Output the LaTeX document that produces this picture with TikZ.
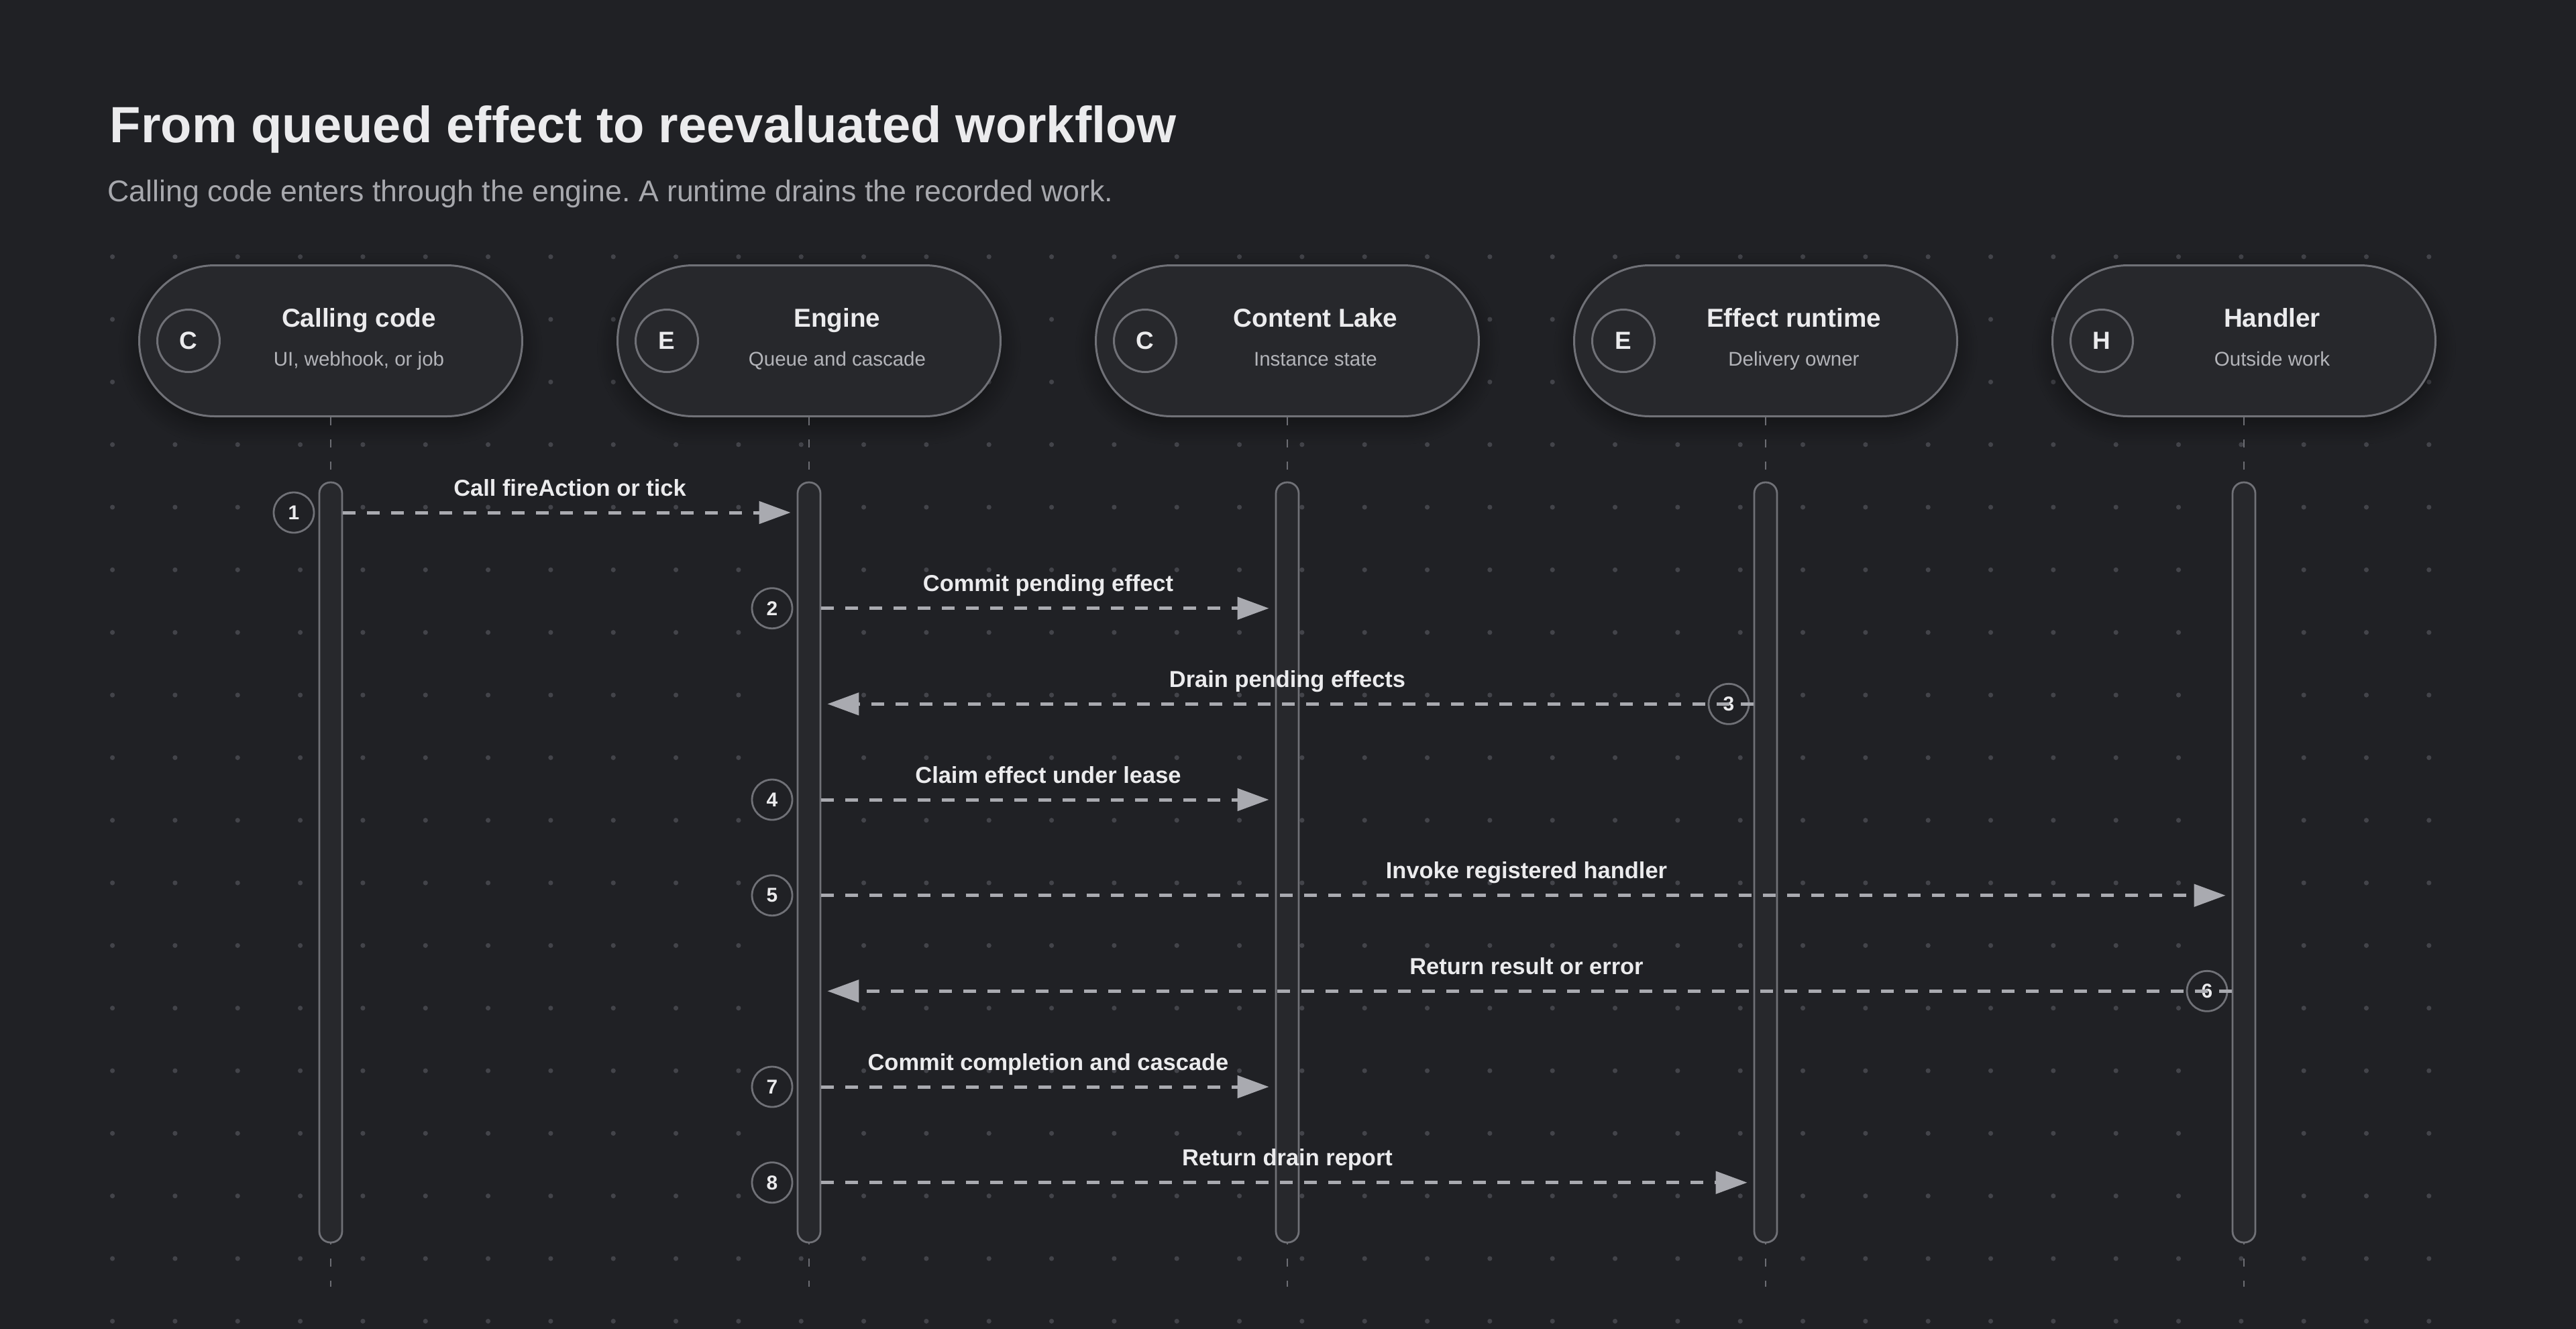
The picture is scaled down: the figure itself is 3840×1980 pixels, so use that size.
\documentclass[tikz,border=0pt]{standalone}
\usepackage{fontspec}
\setmainfont{Liberation Sans}
\usepackage{xcolor}
\usepackage{tikz}
\usetikzlibrary{positioning, calc, arrows.meta, shapes.misc, shadows.blur}
\frenchspacing

\definecolor{canvas}{HTML}{202125}
\definecolor{pillfill}{HTML}{27282C}
\definecolor{edge}{HTML}{707177}
\definecolor{lifec}{HTML}{6C6D73}
\definecolor{gridc}{HTML}{43444A}
\definecolor{wire}{HTML}{A9AAB0}
\definecolor{ink}{HTML}{EBEBED}
\definecolor{muted}{HTML}{A7A8AD}
\definecolor{soft}{HTML}{B3B4B9}

\begin{document}
\begin{tikzpicture}[
    x=0.1mm, y=-0.1mm,
    pill/.style={rounded rectangle, draw=edge, line width=0.3mm, fill=pillfill,
                 minimum width=57.1mm, minimum height=22.5mm, inner sep=0pt,
                 blur shadow={shadow blur radius=3mm, shadow xshift=0mm,
                              shadow yshift=-1.2mm, shadow opacity=45,
                              shadow blur steps=12}},
    initial/.style={circle, draw=edge, line width=0.3mm, minimum size=9.3mm,
                    inner sep=0pt, text=ink,
                    font=\fontsize{10.5pt}{12pt}\selectfont\bfseries},
    ptitle/.style={anchor=base, inner sep=0pt, text=ink,
                   font=\fontsize{11pt}{13pt}\selectfont\bfseries},
    psub/.style={anchor=base, inner sep=0pt, text=soft,
                 font=\fontsize{8.4pt}{10pt}\selectfont},
    lifeline/.style={draw=lifec, line width=0.25mm,
                     dash pattern=on 1.2mm off 2.1mm},
    actbox/.style={draw=edge, line width=0.28mm, fill=pillfill,
                   rounded corners=1.65mm, minimum width=3.4mm,
                   minimum height=113.3mm, inner sep=0pt},
    stepnum/.style={circle, draw=edge, line width=0.28mm, fill=canvas,
                    minimum size=6mm, inner sep=0pt, text=ink,
                    font=\fontsize{8.5pt}{10pt}\selectfont\bfseries},
    msg/.style={draw=wire, line width=0.5mm, dash pattern=on 1.9mm off 1.7mm,
                -{Triangle[length=4.7mm, width=3.3mm]}, shorten >=0.9mm},
    msglabel/.style={anchor=base, yshift=2.5mm, inner sep=0pt, text=ink,
                     font=\fontsize{9.8pt}{11pt}\selectfont\bfseries},
]
% --- Canvas ---
\useasboundingbox (0,0) rectangle (3840,1980);
\fill[canvas] (-20,-20) rectangle (3860,2000);

% dot grid
\foreach \i in {0,...,37}
  \foreach \j in {0,...,17}
    \fill[gridc] ({167.6+93.33*\i},{382.7+93.33*\j}) circle (0.36mm);

% --- Heading ---
\node[anchor=base west, inner sep=0pt, text=ink,
      font=\fontsize{21.6pt}{26pt}\selectfont\bfseries] (title) at (163,212)
    {From queued effect to reevaluated workflow};
\node[anchor=base west, inner sep=0pt, text=muted,
      font=\fontsize{12.7pt}{15pt}\selectfont] (subtitle) at (160,300)
    {Calling code enters through the engine. A runtime drains the recorded work.};

% --- Participants ---
\node[pill] (call) at (493,508) {};
\node[initial] (call_i) at ($(call.west)+(75,0)$) {C};
\node[ptitle] (call_t) at ($(call.center)+(42,-21)$) {Calling code};
\node[psub] (call_s) at ($(call.center)+(42,37)$) {UI, webhook, or job};

\node[pill] (eng) at (1206,508) {};
\node[initial] (eng_i) at ($(eng.west)+(75,0)$) {E};
\node[ptitle] (eng_t) at ($(eng.center)+(42,-21)$) {Engine};
\node[psub] (eng_s) at ($(eng.center)+(42,37)$) {Queue and cascade};

\node[pill] (lake) at (1919,508) {};
\node[initial] (lake_i) at ($(lake.west)+(75,0)$) {C};
\node[ptitle] (lake_t) at ($(lake.center)+(42,-21)$) {Content Lake};
\node[psub] (lake_s) at ($(lake.center)+(42,37)$) {Instance state};

\node[pill] (rt) at (2632,508) {};
\node[initial] (rt_i) at ($(rt.west)+(75,0)$) {E};
\node[ptitle] (rt_t) at ($(rt.center)+(42,-21)$) {Effect runtime};
\node[psub] (rt_s) at ($(rt.center)+(42,37)$) {Delivery owner};

\node[pill] (hdl) at (3345,508) {};
\node[initial] (hdl_i) at ($(hdl.west)+(75,0)$) {H};
\node[ptitle] (hdl_t) at ($(hdl.center)+(42,-21)$) {Handler};
\node[psub] (hdl_s) at ($(hdl.center)+(42,37)$) {Outside work};

% --- Lifelines ---
\coordinate (call_end) at (493,1918);
\coordinate (eng_end) at (1206,1918);
\coordinate (lake_end) at (1919,1918);
\coordinate (rt_end) at (2632,1918);
\coordinate (hdl_end) at (3345,1918);
\draw[lifeline] (call.south) -- (call_end);
\draw[lifeline] (eng.south) -- (eng_end);
\draw[lifeline] (lake.south) -- (lake_end);
\draw[lifeline] (rt.south) -- (rt_end);
\draw[lifeline] (hdl.south) -- (hdl_end);

\node[actbox] (act_call) at (493,1285.5) {};
\node[actbox] (act_eng) at (1206,1285.5) {};
\node[actbox] (act_lake) at (1919,1285.5) {};
\node[actbox] (act_rt) at (2632,1285.5) {};
\node[actbox] (act_hdl) at (3345,1285.5) {};

% --- Step badges ---
\node[stepnum] (s1) at (438,764) {1};
\node[stepnum] (s2) at (1151,906.7) {2};
\node[stepnum] (s3) at (2577,1049.3) {3};
\node[stepnum] (s4) at (1151,1192) {4};
\node[stepnum] (s5) at (1151,1334.7) {5};
\node[stepnum] (s6) at (3290,1477.3) {6};
\node[stepnum] (s7) at (1151,1620) {7};
\node[stepnum] (s8) at (1151,1762.7) {8};

% --- Messages ---
\draw[msg] (s1 -| act_call.east) -- (s1 -| act_eng.west)
    node[midway, msglabel] {Call fireAction or tick};
\draw[msg] (s2 -| act_eng.east) -- (s2 -| act_lake.west)
    node[midway, msglabel] {Commit pending effect};
\draw[msg] (s3 -| act_rt.west) -- (s3 -| act_eng.east)
    node[midway, msglabel] {Drain pending effects};
\draw[msg] (s4 -| act_eng.east) -- (s4 -| act_lake.west)
    node[midway, msglabel] {Claim effect under lease};
\draw[msg] (s5 -| act_eng.east) -- (s5 -| act_hdl.west)
    node[midway, msglabel] {Invoke registered handler};
\draw[msg] (s6 -| act_hdl.west) -- (s6 -| act_eng.east)
    node[midway, msglabel] {Return result or error};
\draw[msg] (s7 -| act_eng.east) -- (s7 -| act_lake.west)
    node[midway, msglabel] {Commit completion and cascade};
\draw[msg] (s8 -| act_eng.east) -- (s8 -| act_rt.west)
    node[midway, msglabel] {Return drain report};
\end{tikzpicture}
\end{document}
